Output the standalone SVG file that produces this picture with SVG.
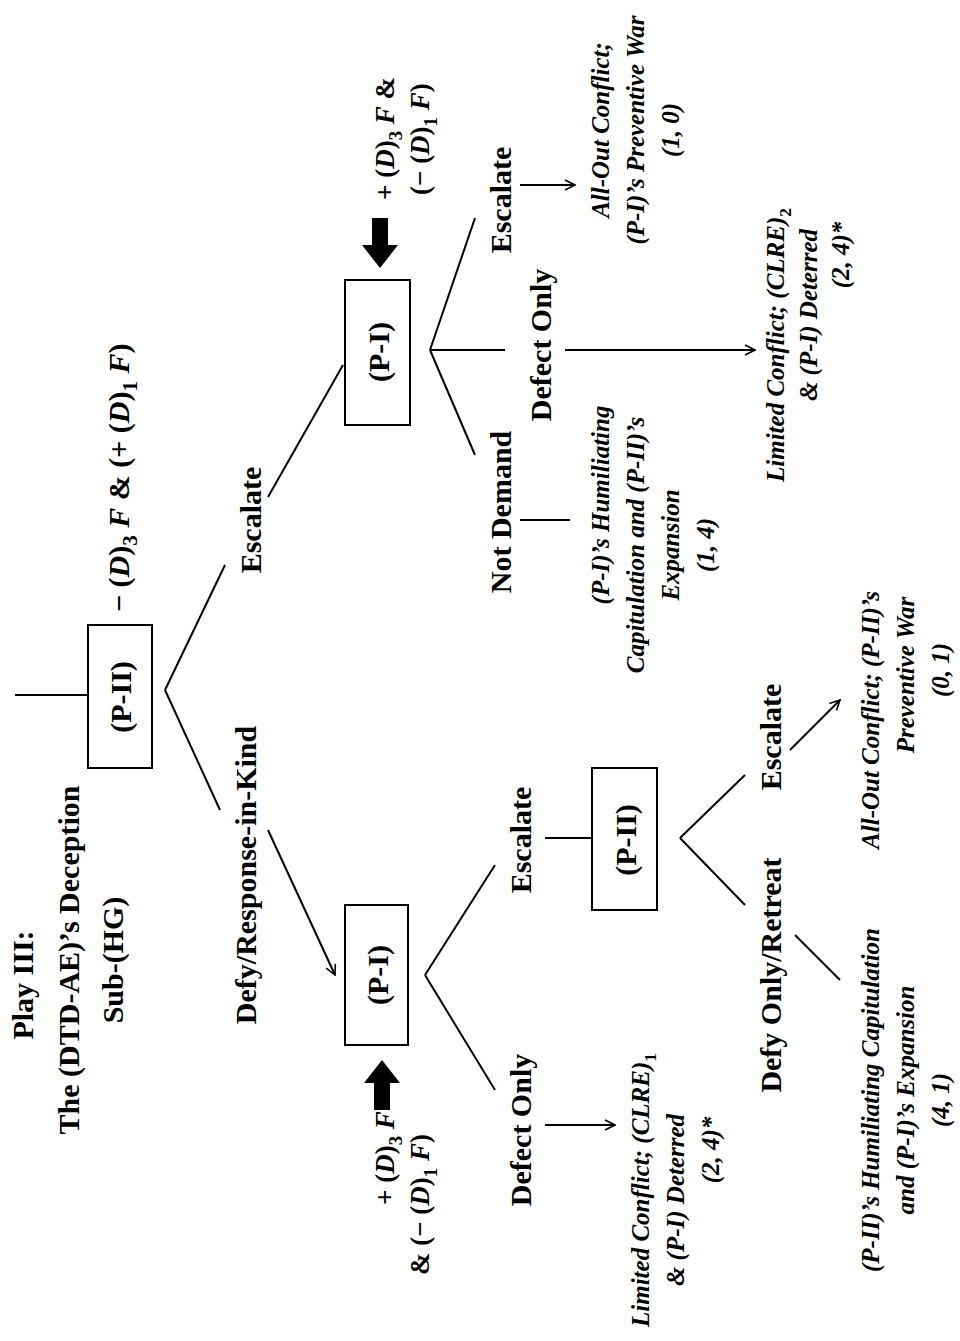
<svg xmlns="http://www.w3.org/2000/svg" width="960" height="1341" viewBox="0 0 960 1341">
<defs>
<style>
text{font-family:"Liberation Serif","Times New Roman",serif;font-weight:bold;fill:#000;text-anchor:middle;dominant-baseline:central}
.l{font-size:30px}
.m{font-size:27px}
.o{font-size:25px;font-style:italic}
.t{font-size:30px}
.s{font-size:70%;baseline-shift:sub}
line,polyline{stroke:#000;stroke-width:2;fill:none}
rect{fill:#fff;stroke:#000;stroke-width:2}
.a{marker-end:url(#ah)}
</style>
<marker id="ah" viewBox="0 0 12 12" refX="11" refY="6" markerWidth="12" markerHeight="12" markerUnits="userSpaceOnUse" orient="auto"><polyline points="1,1 11,6 1,11" style="stroke:#000;stroke-width:1.6;fill:none"/></marker>
</defs>
<rect width="960" height="1341" style="fill:#fff;stroke:none"/>
<g id="title">
<text class="t" transform="translate(22,985) rotate(-90)">Play III:</text>
<text class="t" transform="translate(68,960) rotate(-90)">The (DTD-AE)’s Deception</text>
<text class="t" transform="translate(112,960) rotate(-90)">Sub-(HG)</text>
</g>
<g id="connectors">
<line x1="15" y1="695" x2="88" y2="695"/>
<line x1="165" y1="690" x2="225" y2="565"/>
<line x1="268" y1="497" x2="343" y2="365"/>
<line x1="165" y1="690" x2="220" y2="810"/>
<line class="a" x1="268" y1="830" x2="335" y2="975"/>
<line x1="430" y1="350" x2="475" y2="455"/>
<line x1="430" y1="350" x2="505" y2="350"/>
<line x1="430" y1="350" x2="475" y2="218"/>
<line class="a" x1="520" y1="185" x2="575" y2="185"/>
<line class="a" x1="565" y1="350" x2="755" y2="350"/>
<line x1="520" y1="520" x2="570" y2="520"/>
<line x1="425" y1="975" x2="495" y2="1090"/>
<line x1="425" y1="975" x2="495" y2="865"/>
<line class="a" x1="545" y1="1125" x2="615" y2="1125"/>
<line x1="545" y1="838" x2="592" y2="838"/>
<line x1="680" y1="838" x2="745" y2="775"/>
<line x1="680" y1="838" x2="745" y2="905"/>
<line class="a" x1="790" y1="750" x2="840" y2="700"/>
<line x1="795" y1="935" x2="840" y2="980"/>
<polygon points="372,218 388,218 388,245 398,245 380,268 362,245 372,245" style="fill:#000"/>
<polygon points="374,1110 390,1110 390,1083 400,1083 382,1060 364,1083 374,1083" style="fill:#000"/>
</g>
<g id="n-root"><rect x="88" y="625" width="64" height="143"/><text class="l" transform="translate(120,697) rotate(-90)">(P-II)</text></g>
<g id="lbl-root"><text class="l" style="text-anchor:start" transform="translate(118,612) rotate(-90)">− (<tspan font-style="italic">D</tspan>)<tspan class="s">3</tspan><tspan font-style="italic"> F</tspan> &amp; (+ (<tspan font-style="italic">D</tspan>)<tspan class="s">1</tspan><tspan font-style="italic"> F</tspan>)</text></g>
<g id="b-esc"><text class="l" transform="translate(250,520) rotate(-90)">Escalate</text></g>
<g id="b-defy"><text class="l" transform="translate(245,875) rotate(-90)">Defy/Response-in-Kind</text></g>
<g id="n-pi-up"><rect x="345" y="280" width="65" height="145"/><text class="l" transform="translate(378,352) rotate(-90)">(P-I)</text></g>
<g id="lbl-up">
<text class="m" style="text-anchor:start" transform="translate(385,200) rotate(-90)">+ (<tspan font-style="italic">D</tspan>)<tspan class="s">3</tspan><tspan font-style="italic"> F</tspan> &amp;</text>
<text class="m" style="text-anchor:start" transform="translate(420,195) rotate(-90)">(− (<tspan font-style="italic">D</tspan>)<tspan class="s">1</tspan><tspan font-style="italic"> F</tspan>)</text>
</g>
<g id="b-nd"><text class="l" transform="translate(500,512) rotate(-90)">Not Demand</text></g>
<g id="b-do1"><text class="l" transform="translate(540,345) rotate(-90)">Defect Only</text></g>
<g id="b-esc2"><text class="l" transform="translate(500,200) rotate(-90)">Escalate</text></g>
<g id="o1">
<text class="o" transform="translate(600,130) rotate(-90)">All-Out Conflict;</text>
<text class="o" transform="translate(635,130) rotate(-90)">(P-I)’s Preventive War</text>
<text class="o" transform="translate(670,130) rotate(-90)">(1, 0)</text>
</g>
<g id="o2">
<text class="o" transform="translate(775,345) rotate(-90)">Limited Conflict; (CLRE)<tspan class="s" font-style="normal">2</tspan></text>
<text class="o" transform="translate(808,315) rotate(-90)">&amp; (P-I) Deterred</text>
<text class="o" transform="translate(840,255) rotate(-90)">(2, 4)*</text>
</g>
<g id="o3">
<text class="o" transform="translate(600,505) rotate(-90)">(P-I)’s Humiliating</text>
<text class="o" transform="translate(635,545) rotate(-90)">Capitulation and (P-II)’s</text>
<text class="o" transform="translate(670,545) rotate(-90)">Expansion</text>
<text class="o" transform="translate(705,545) rotate(-90)">(1, 4)</text>
</g>
<g id="n-pi-low"><rect x="345" y="905" width="63" height="140"/><text class="l" transform="translate(377,975) rotate(-90)">(P-I)</text></g>
<g id="lbl-low">
<text class="m" style="text-anchor:start" transform="translate(385,1205) rotate(-90)">+ (<tspan font-style="italic">D</tspan>)<tspan class="s">3</tspan><tspan font-style="italic"> F</tspan></text>
<text class="m" style="text-anchor:start" transform="translate(420,1275) rotate(-90)">&amp; (− (<tspan font-style="italic">D</tspan>)<tspan class="s">1</tspan><tspan font-style="italic"> F</tspan>)</text>
</g>
<g id="b-do2"><text class="l" transform="translate(520,1130) rotate(-90)">Defect Only</text></g>
<g id="b-esc3"><text class="l" transform="translate(520,840) rotate(-90)">Escalate</text></g>
<g id="o4">
<text class="o" transform="translate(640,1190) rotate(-90)">Limited Conflict; (CLRE)<tspan class="s" font-style="normal">1</tspan></text>
<text class="o" transform="translate(675,1200) rotate(-90)">&amp; (P-I) Deterred</text>
<text class="o" transform="translate(710,1150) rotate(-90)">(2, 4)*</text>
</g>
<g id="n-pii-low"><rect x="592" y="768" width="65" height="142"/><text class="l" transform="translate(625,840) rotate(-90)">(P-II)</text></g>
<g id="b-esc4"><text class="l" transform="translate(770,737) rotate(-90)">Escalate</text></g>
<g id="b-dor"><text class="l" transform="translate(770,975) rotate(-90)">Defy Only/Retreat</text></g>
<g id="o5">
<text class="o" transform="translate(870,720) rotate(-90)">All-Out Conflict; (P-II)’s</text>
<text class="o" transform="translate(905,675) rotate(-90)">Preventive War</text>
<text class="o" transform="translate(940,670) rotate(-90)">(0, 1)</text>
</g>
<g id="o6">
<text class="o" transform="translate(870,1100) rotate(-90)">(P-II)’s Humiliating Capitulation</text>
<text class="o" transform="translate(905,1100) rotate(-90)">and (P-I)’s Expansion</text>
<text class="o" transform="translate(940,1100) rotate(-90)">(4, 1)</text>
</g>
</svg>
